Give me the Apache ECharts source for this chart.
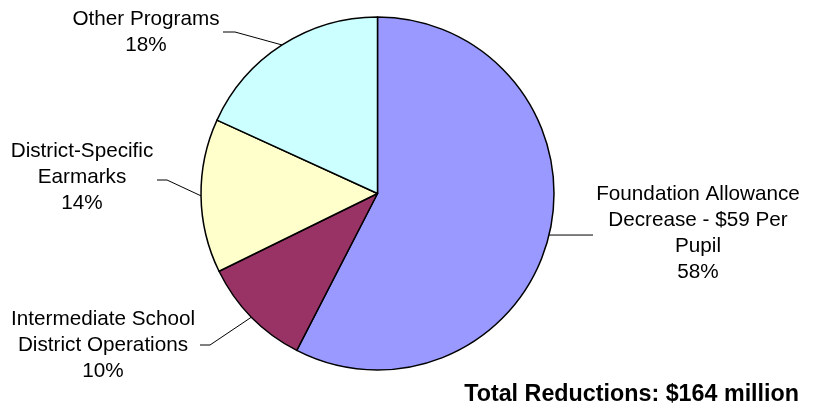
<!DOCTYPE html>
<html>
<head>
<meta charset="utf-8">
<script src="https://cdn.jsdelivr.net/npm/echarts@6/dist/echarts.min.js"></script>
<style>
html,body{margin:0;padding:0;background:#fff;}
#chart{width:813px;height:404px;}
</style>
</head>
<body>
<div id="chart"></div>
<script>
// Data (millions of dollars, total $164 million)
const categories = [
  "Foundation Allowance\nDecrease - $59 Per\nPupil",
  "Intermediate School\nDistrict Operations",
  "District-Specific\nEarmarks",
  "Other Programs"
];
const values = [94.4, 16.7, 23.1, 29.8];
const colors = ["#9999FF", "#993366", "#FFFFCC", "#CCFFFF"];
const totalText = "Total Reductions: $164 million";

// Label layout (positions/styles only)
const labelPos = [[698, 233], [103, 345], [82, 177], [146, 32]];
const elbows = [
  [[593, null]],
  [[210, 345], [200, 345]],
  [[167, 180], [157, 180]],
  [[235, 32], [223, 32]]
];

const chart = echarts.init(document.getElementById('chart'));
chart.setOption({
  animation: false,
  backgroundColor: '#fff',
  title: {
    text: totalText,
    right: 9,
    top: 377,
    textStyle: {fontFamily: 'Liberation Sans, Arial, sans-serif', fontWeight: 'bold', fontSize: 23.3, color: '#000', lineHeight: 26}
  },
  series: [{
    type: 'pie',
    center: [377.5, 193.5],
    radius: 176.5,
    startAngle: 90,
    clockwise: true,
    avoidLabelOverlap: false,
    percentPrecision: 0,
    data: categories.map((c, i) => ({name: c, value: values[i], itemStyle: {color: colors[i]}})),
    itemStyle: {borderColor: '#000', borderWidth: 1.5},
    label: {
      show: true,
      position: 'outside',
      formatter: '{b}\n{d}%',
      fontFamily: 'Liberation Sans, Arial, sans-serif',
      fontSize: 20.7,
      lineHeight: 26,
      color: '#000'
    },
    labelLine: {show: true, length: 10, length2: 10, lineStyle: {color: '#000', width: 1}},
    emphasis: {disabled: true},
    labelLayout: function (p) {
      const i = p.dataIndex;
      const edge = p.labelLinePoints ? p.labelLinePoints[0] : null;
      const pts = edge ? [edge.slice ? edge.slice() : [edge[0], edge[1]]] : [];
      elbows[i].forEach(e => pts.push([e[0], e[1] == null ? edge[1] : e[1]]));
      return {
        x: labelPos[i][0],
        y: labelPos[i][1],
        align: 'center',
        verticalAlign: 'middle',
        labelLinePoints: pts
      };
    }
  }]
});
</script>
</body>
</html>
